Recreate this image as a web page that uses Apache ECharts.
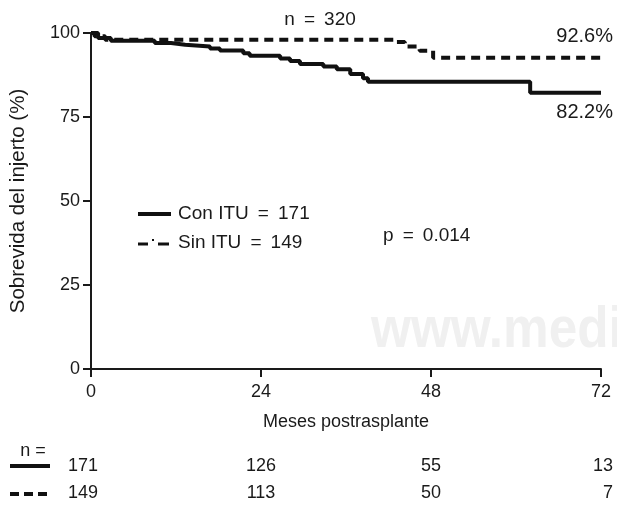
<!DOCTYPE html>
<html>
<head>
<meta charset="UTF-8">
<title>Sobrevida del injerto</title>
<script src="https://cdn.jsdelivr.net/npm/echarts@6/dist/echarts.min.js"></script>
<style>
  html, body { margin: 0; padding: 0; background: #fff; }
  #main { width: 617px; height: 506px; }
</style>
</head>
<body>
<div id="main"></div>
<script type="text/javascript">
// curva Con ITU (meses, % sobrevida)
var conMeses = [0, 1.0, 2.8, 9.0, 11.3, 13.3, 16.8, 18.2, 21.5, 22.4, 26.7, 28.1, 29.5, 32.8, 34.7, 36.6, 38.4, 39.1, 62.0, 72];
var conSobrevida = [100, 98.5, 97.7, 97.0, 96.5, 96.0, 95.4, 94.8, 94.0, 93.2, 92.4, 91.7, 90.8, 90.0, 89.2, 87.8, 86.5, 85.5, 82.2, 82.2];
// curva Sin ITU
var sinMeses = [0, 0.5, 2.0, 42.9, 44.3, 46.4, 48.3, 72];
var sinSobrevida = [100, 99.0, 98.0, 97.3, 96.0, 94.7, 92.6, 92.6];
// pacientes en riesgo
var riesgoMeses = [0, 24, 48, 72];
var riesgoCon = [171, 126, 55, 13];
var riesgoSin = [149, 113, 50, 7];

function pares(xs, ys) {
	var out = [];
	for (var i = 0; i < xs.length; i++) out.push([xs[i], ys[i]]);
	return out;
}

var FONT = 'Liberation Sans, Arial, sans-serif';
var INK = '#1a1a1a';

var myChart = echarts.init(document.getElementById('main'));

var option = {
	animation: false,
	backgroundColor: '#fff',
	grid: { left: 91, right: 16, top: 33, bottom: 137 },
	xAxis: {
		type: 'value', min: 0, max: 72, interval: 24,
		axisLine: { lineStyle: { color: INK, width: 2 } },
		axisTick: { length: 8, lineStyle: { color: INK, width: 2 } },
		axisLabel: { color: INK, fontSize: 18, fontFamily: FONT, margin: 14 },
		splitLine: { show: false },
		name: 'Meses postrasplante', nameLocation: 'middle', nameGap: 44,
		nameTextStyle: { color: INK, fontSize: 18, fontFamily: FONT }
	},
	yAxis: {
		type: 'value', min: 0, max: 100, interval: 25,
		axisLine: { show: true, lineStyle: { color: INK, width: 2 } },
		axisTick: { show: true, length: 8, lineStyle: { color: INK, width: 2 } },
		axisLabel: { color: INK, fontSize: 18, fontFamily: FONT, margin: 11 },
		splitLine: { show: false },
		name: 'Sobrevida del injerto (%)', nameLocation: 'middle', nameGap: 62,
		nameTextStyle: { color: INK, fontSize: 20.5, fontFamily: FONT }
	},
	series: [
		{
			name: 'Con ITU', type: 'line', step: 'end', showSymbol: false, z: 3,
			data: pares(conMeses, conSobrevida),
			lineStyle: { color: '#111', width: 4 }
		},
		{
			name: 'Sin ITU', type: 'line', step: 'end', showSymbol: false, z: 3,
			data: pares(sinMeses, sinSobrevida),
			lineStyle: { color: '#111', width: 4, type: [9, 6] }
		}
	]
};
myChart.setOption(option);

// textos y leyendas
function txt(x, y, s, align, size) {
	return {
		type: 'text', x: x, y: y, z: 10,
		style: { text: s, fill: INK, font: (size || 18) + 'px ' + FONT, textAlign: align || 'left', textVerticalAlign: 'middle' }
	};
}
function linea(x1, y1, x2, y2, dash, w) {
	return {
		type: 'line', z: 10,
		shape: { x1: x1, y1: y1, x2: x2, y2: y2 },
		style: { stroke: '#111', lineWidth: w || 4, lineDash: dash || null }
	};
}

var elems = [
	{
		type: 'text', x: 371, y: 331, z: 0, scaleX: 0.9,
		style: { text: 'www.medi', fill: '#f0f0f0', font: 'bold 57px ' + FONT, textAlign: 'left', textVerticalAlign: 'middle' }
	},
	txt(320, 20, 'n \u2009=\u2009 320', 'center', 19),
	txt(613, 36, '92.6%', 'right', 20),
	txt(613, 112, '82.2%', 'right', 20),
	txt(383, 236, 'p \u2009=\u2009 0.014', 'left', 19),
	linea(138, 214, 171, 214),
	txt(178, 214, 'Con ITU \u2009=\u2009 171', 'left', 19),
	linea(138, 244, 148, 244, null, 3),
	linea(158, 244, 169, 244, null, 3),
	{ type: 'rect', z: 10, shape: { x: 152, y: 239, width: 2, height: 2 }, style: { fill: '#111' } },
	txt(178, 243, 'Sin ITU \u2009=\u2009 149', 'left', 19),
	txt(33, 451, 'n =', 'center'),
	linea(10, 466, 50, 466),
	linea(10, 494, 50, 494, [9, 5])
];

// pacientes en riesgo alineados con el eje x
for (var i = 0; i < riesgoMeses.length; i++) {
	var px = myChart.convertToPixel({ xAxisIndex: 0 }, riesgoMeses[i]);
	var align = 'center';
	if (i === 0) { px = px - 8; }
	if (i === riesgoMeses.length - 1) { px = px + 12; align = 'right'; }
	elems.push(txt(px, 466, String(riesgoCon[i]), align));
	elems.push(txt(px, 493, String(riesgoSin[i]), align));
}

myChart.setOption({ graphic: elems });
</script>
</body>
</html>
